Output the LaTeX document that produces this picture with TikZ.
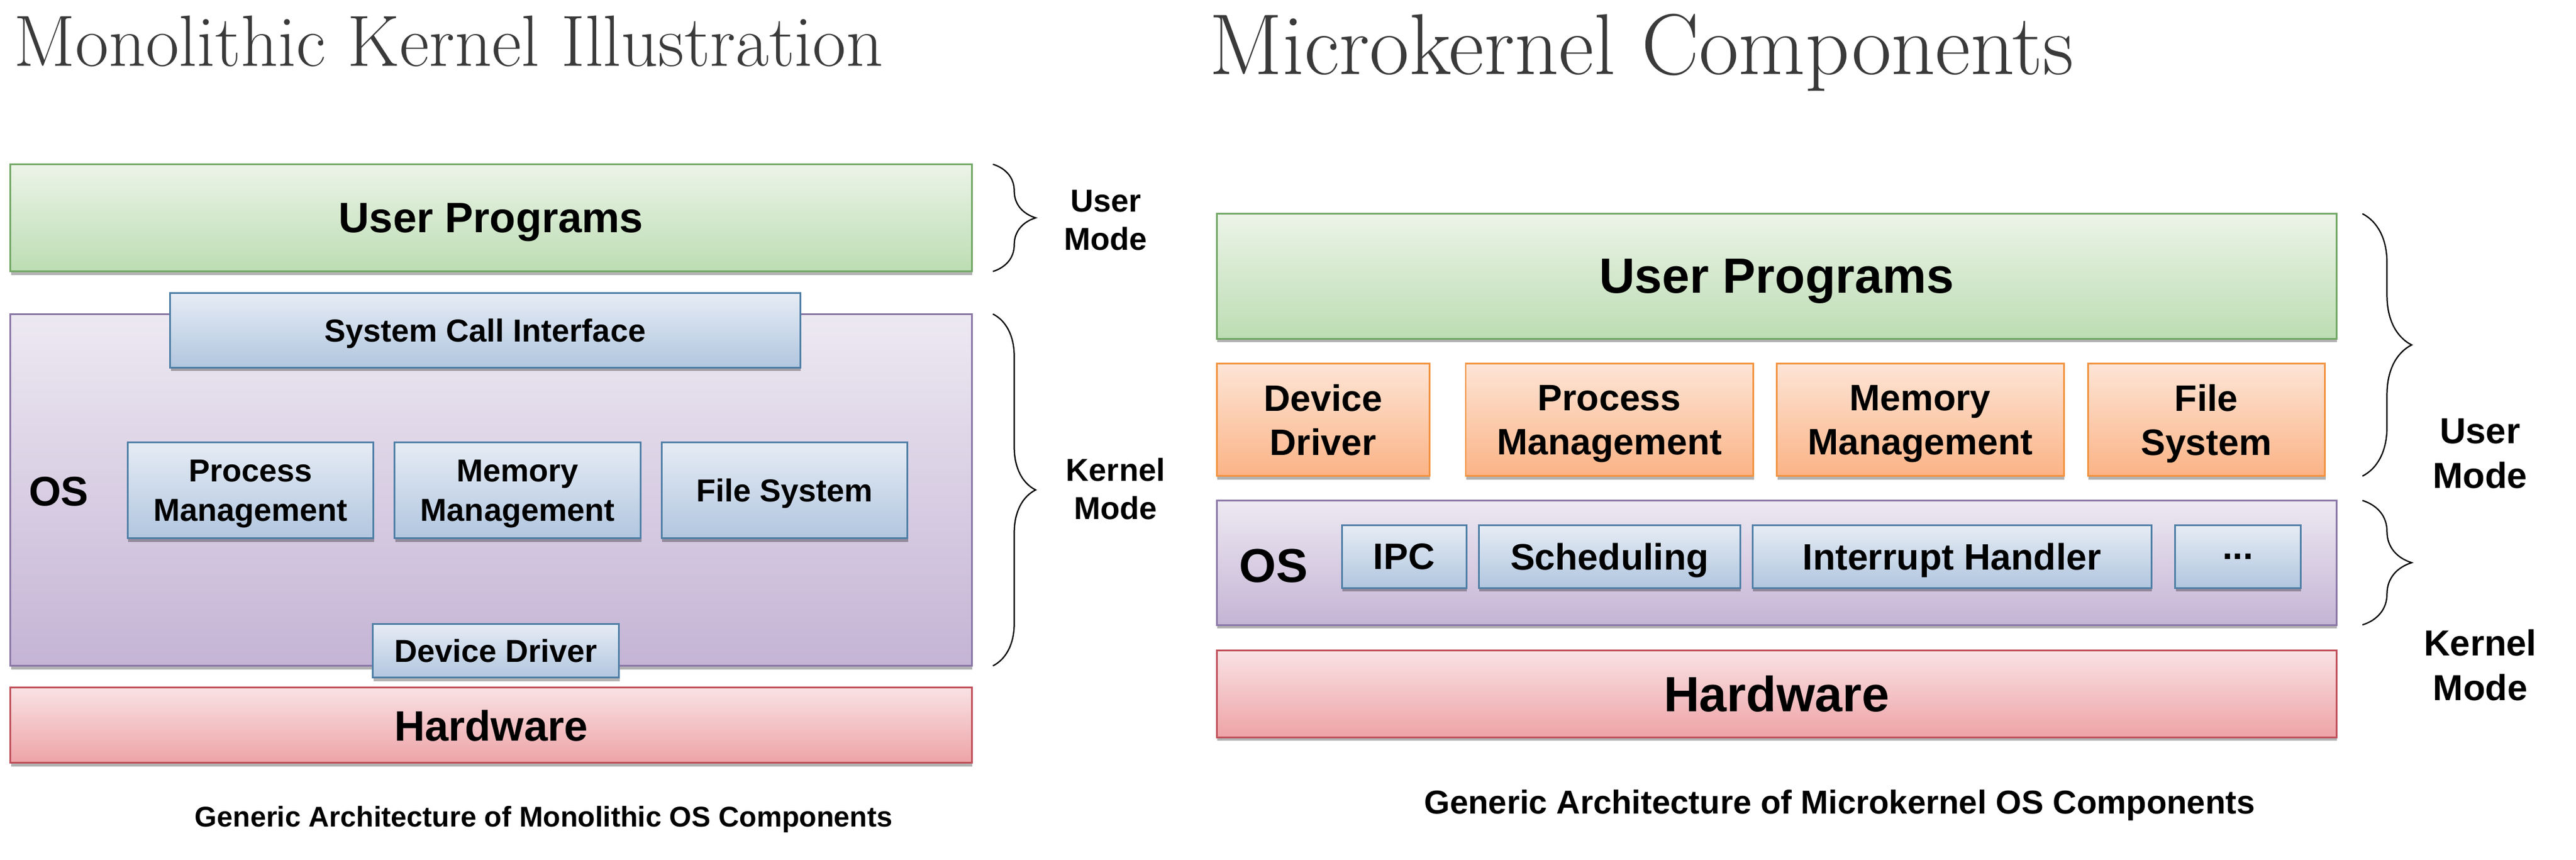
\documentclass[tikz,border=0pt]{standalone}
\usepackage{fontspec}
\setsansfont{Liberation Sans}
\usepackage{xcolor}
\usepackage{tikz}
\usetikzlibrary{decorations.pathreplacing,shadows}

\definecolor{titlegray}{HTML}{3A3A3A}
\definecolor{greenT}{HTML}{ECF4E8}
\definecolor{greenB}{HTML}{BCDDB3}
\definecolor{greenL}{HTML}{72A865}
\definecolor{purT}{HTML}{EDE9F2}
\definecolor{purB}{HTML}{C5B4D5}
\definecolor{purL}{HTML}{8B77A8}
\definecolor{bluT}{HTML}{E6ECF5}
\definecolor{bluB}{HTML}{B1C6DF}
\definecolor{bluL}{HTML}{4F7FA6}
\definecolor{oraT}{HTML}{FDE5D6}
\definecolor{oraB}{HTML}{FBB386}
\definecolor{oraL}{HTML}{F29340}
\definecolor{redT}{HTML}{F9E2E4}
\definecolor{redB}{HTML}{EEA3A7}
\definecolor{redL}{HTML}{C0505A}

\tikzset{
  layer/.style={draw, line width=0.8pt, inner sep=0pt, outer sep=0pt, anchor=north west, align=center,
    text depth=0pt, drop shadow={shadow xshift=0.3pt, shadow yshift=-1.6pt, opacity=0.3, fill=black}},
  wh/.style 2 args={minimum width=#1*0.75pt, minimum height=#2*0.75pt},
  greenbox/.style={layer, draw=greenL, top color=greenT, bottom color=greenB},
  purplebox/.style={layer, draw=purL, top color=purT, bottom color=purB},
  bluebox/.style={layer, draw=bluL, top color=bluT, bottom color=bluB},
  orangebox/.style={layer, draw=oraL, top color=oraT, bottom color=oraB},
  redbox/.style={layer, draw=redL, top color=redT, bottom color=redB},
  leftbig/.style={font=\sffamily\bfseries\fontsize{19.4}{23}\selectfont},
  leftsmall/.style={font=\sffamily\bfseries\fontsize{14.5}{17.9}\selectfont},
  rightbig/.style={font=\sffamily\bfseries\fontsize{22.6}{27}\selectfont},
  rightsmall/.style={font=\sffamily\bfseries\fontsize{16.8}{20.1}\selectfont},
  leftmode/.style={inner sep=0pt, align=center, font=\sffamily\bfseries\fontsize{14.5}{17.5}\selectfont},
  rightmode/.style={inner sep=0pt, align=center, font=\sffamily\bfseries\fontsize{16.5}{20.3}\selectfont},
  modebrace/.style={decorate, decoration={brace, amplitude=#1}, line width=0.6pt},
  heading/.style={anchor=base west, inner sep=0pt, text=titlegray},
}

\begin{document}
\begin{tikzpicture}[x=0.75pt,y=0.75pt,yscale=-1,xscale=1]
\useasboundingbox (0,0) rectangle (1567.9,522.8);
\fill [white] (0,0) rectangle (1567.9,522.8);

% Monolithic side
\node (ltitle) [heading, font=\fontsize{33.1}{39}\selectfont] at (8.2,40.2) {Monolithic Kernel Illustration};

\node (los) [purplebox, wh={585}{214}] at (6.4,191) {};
\node (lup) [greenbox, leftbig, wh={585}{65.2}] at (6.4,99.9) {User Programs};
\node (lsci) [bluebox, leftsmall, wh={383.5}{45.3}] at (103.5,178.2) {System Call Interface};
\node (lproc) [bluebox, leftsmall, wh={149.7}{58.5}] at (77.7,269) {Process\\Management};
\node (lmem) [bluebox, leftsmall, wh={149.7}{58.5}] at (240.2,269) {Memory\\Management};
\node (lfs) [bluebox, leftsmall, wh={149.7}{58.5}] at (402.7,269) {File System};
\node (ldd) [bluebox, leftsmall, wh={149.7}{32.8}] at (227,379.4) {Device Driver};
\node (lhw) [redbox, leftbig, wh={585}{45.7}] at (6.4,418.3) {Hardware};
% Text Node
\node (losl) [anchor=base west, inner sep=0pt, font=\sffamily\bfseries\fontsize{18.9}{22}\selectfont] at (17.3,307.5) {OS};

% Braces
\draw [modebrace=19.5pt] ([xshift=9.7pt]lup.north east) -- ([xshift=9.7pt]lup.south east);
\draw [modebrace=19.5pt] ([xshift=9.7pt]los.north east) -- ([xshift=9.7pt]los.south east);
\node (lumode) [leftmode] at (673,134) {User\\Mode};
\node (lkmode) [leftmode] at (679,297.3) {Kernel\\Mode};

% Text Node
\node (lcap) [anchor=base, inner sep=0pt, font=\sffamily\bfseries\fontsize{13}{15}\selectfont] at (331,503) {Generic Architecture of Monolithic OS Components};

% Microkernel side
\node (rtitle) [heading, font=\fontsize{39.4}{46}\selectfont] at (735.8,45.3) {Microkernel Components};

\node (rup) [greenbox, rightbig, wh={681.4}{76}] at (740.6,130) {User Programs};
\node (rdd) [orangebox, rightsmall, wh={129.4}{68.4}] at (740.6,221.2) {Device\\Driver};
\node (rproc) [orangebox, rightsmall, wh={175}{68.4}] at (892.1,221.2) {Process\\Management};
\node (rmem) [orangebox, rightsmall, wh={174.7}{68.4}] at (1081.4,221.2) {Memory\\Management};
\node (rfs) [orangebox, rightsmall, wh={144.2}{68.4}] at (1270.8,221.2) {File\\System};

\node (ros) [purplebox, wh={681.4}{75.7}] at (740.6,304.4) {};
\node (ripc) [bluebox, rightsmall, wh={75.8}{38.2}] at (816.7,319.4) {IPC};
\node (rsch) [bluebox, rightsmall, wh={159.1}{38.2}] at (900.1,319.4) {Scheduling};
\node (rint) [bluebox, rightsmall, wh={242.7}{38.2}] at (1066.7,319.4) {Interrupt Handler};
\node (rdots) [bluebox, rightsmall, wh={76.2}{38.2}] at (1324,319.4) {...};
% Text Node
\node (rosl) [anchor=base west, inner sep=0pt, font=\sffamily\bfseries\fontsize{21.7}{25}\selectfont] at (753.9,354) {OS};
\node (rhw) [redbox, rightbig, wh={681.4}{53}] at (740.6,395.5) {Hardware};

% Braces
\coordinate (rbr) at (rup.east |- rfs.south);
\draw [modebrace=22.5pt] ([xshift=11.9pt]rup.north east) -- ([xshift=11.9pt]rbr);
\draw [modebrace=22.5pt] ([xshift=11.9pt]ros.north east) -- ([xshift=11.9pt]ros.south east);
\node (rumode) [rightmode] at (1509.5,276) {User\\Mode};
\node (rkmode) [rightmode] at (1509.7,404.6) {Kernel\\Mode};

% Text Node
\node (rcap) [anchor=base, inner sep=0pt, font=\sffamily\bfseries\fontsize{15.1}{18}\selectfont] at (1119.7,494.9) {Generic Architecture of Microkernel OS Components};

\end{tikzpicture}
\end{document}
